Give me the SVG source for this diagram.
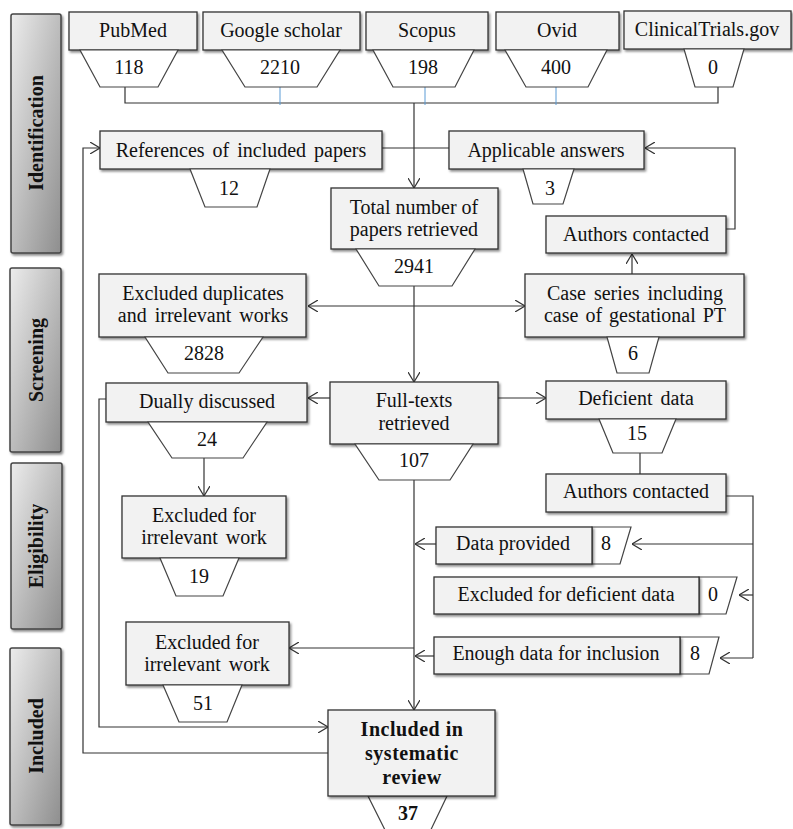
<svg xmlns="http://www.w3.org/2000/svg" width="793" height="829" viewBox="0 0 793 829">
<defs>
<linearGradient id="bar" x1="0" y1="0" x2="1" y2="1">
<stop offset="0" stop-color="#ececec"/>
<stop offset="1" stop-color="#8e8e8e"/>
</linearGradient>
<filter id="sh" x="-10%" y="-10%" width="130%" height="140%">
<feDropShadow dx="1.5" dy="2" stdDeviation="1" flood-color="#000" flood-opacity="0.45"/>
</filter>
<marker id="arr" viewBox="0 0 10 12" refX="10" refY="6" markerWidth="10" markerHeight="12" markerUnits="userSpaceOnUse" orient="auto-start-reverse">
<path d="M0,0 L10,6 L0,12" fill="none" stroke="#333" stroke-width="1.2"/>
</marker>
</defs>
<style>
.box{fill:#f2f2f2;stroke:#333;stroke-width:1.3;filter:url(#sh)}
.trap{fill:#fff;stroke:#444;stroke-width:1.2}
.phase{fill:url(#bar);stroke:#444;stroke-width:1.5;filter:url(#sh)}
text{font-family:"Liberation Serif","Times New Roman",serif;font-size:20px;fill:#111;text-anchor:middle}
.b{font-weight:bold}
.c{fill:none;stroke:#333;stroke-width:1.2}
.a{marker-end:url(#arr)}
.blue{fill:none;stroke:#5b9bd5;stroke-width:1}
</style>
<rect width="793" height="829" fill="#fff"/>

<g id="phase-identification"><rect class="phase" x="11" y="14" width="50" height="239" rx="2"/><text class="b" transform="translate(43,133) rotate(-90)">Identification</text></g>
<g id="phase-screening"><rect class="phase" x="10" y="268" width="51" height="184" rx="2"/><text class="b" transform="translate(43,360) rotate(-90)">Screening</text></g>
<g id="phase-eligibility"><rect class="phase" x="11" y="463" width="51" height="166" rx="2"/><text class="b" transform="translate(43,546) rotate(-90)">Eligibility</text></g>
<g id="phase-included"><rect class="phase" x="10" y="648" width="51" height="177" rx="2"/><text class="b" transform="translate(43,736) rotate(-90)">Included</text></g>

<g id="connectors">
<polyline class="c" points="125,87 125,103 718,103 718,87"/>
<line class="blue" x1="280" y1="87" x2="280" y2="105"/>
<line class="blue" x1="425" y1="87" x2="425" y2="105"/>
<line class="blue" x1="556" y1="87" x2="556" y2="105"/>
<line class="c a" x1="414" y1="103" x2="414" y2="188"/>
<line class="c" x1="382" y1="148" x2="449" y2="148"/>
<polyline class="c a" points="726,229 735,229 735,148 645,148"/>
<line class="c a" x1="632" y1="274" x2="632" y2="254"/>
<line class="c a" x1="414" y1="286" x2="414" y2="382"/>
<line class="c a" x1="308" y1="306" x2="525" y2="306" marker-start="url(#arr)"/>
<line class="c a" x1="330" y1="398" x2="308" y2="398"/>
<line class="c a" x1="498" y1="398" x2="546" y2="398"/>
<line class="c a" x1="204" y1="458" x2="204" y2="496"/>
<line class="c" x1="640" y1="453" x2="640" y2="474"/>
<polyline class="c" points="726,496 753,496 753,658"/>
<line class="c a" x1="753" y1="544" x2="632" y2="544"/>
<line class="c a" x1="753" y1="595" x2="739" y2="595"/>
<line class="c a" x1="753" y1="658" x2="720" y2="658"/>
<line class="c a" x1="436" y1="544" x2="415" y2="544"/>
<line class="c a" x1="434" y1="656" x2="415" y2="656"/>
<line class="c a" x1="414" y1="480" x2="414" y2="710"/>
<line class="c a" x1="414" y1="648" x2="289" y2="648"/>
<polyline class="c a" points="106,399 99,399 99,727 328,727"/>
<polyline class="c a" points="328,753 83,753 83,148 100,148"/>
</g>

<g id="pubmed"><rect class="box" x="69" y="12" width="128" height="38"/><polygon class="trap" points="80,50 178,50 158,87 100,87"/><text x="133" y="37">PubMed</text><text x="129" y="74">118</text></g>
<g id="google-scholar"><rect class="box" x="203" y="12" width="157" height="38"/><polygon class="trap" points="222,50 340,50 317,87 245,87"/><text x="281" y="37">Google scholar</text><text x="280" y="74">2210</text></g>
<g id="scopus"><rect class="box" x="366" y="12" width="122" height="38"/><polygon class="trap" points="373,50 474,50 455,87 393,87"/><text x="427" y="37">Scopus</text><text x="423" y="74">198</text></g>
<g id="ovid"><rect class="box" x="496" y="12" width="123" height="38"/><polygon class="trap" points="505,50 607,50 588,87 526,87"/><text x="557" y="37">Ovid</text><text x="556" y="74">400</text></g>
<g id="clinicaltrials"><rect class="box" x="624" y="11" width="167" height="38"/><polygon class="trap" points="684,49 744,49 733,87 695,87"/><text x="707" y="36">ClinicalTrials.gov</text><text x="713" y="74">0</text></g>

<g id="references"><rect class="box" x="100" y="131" width="282" height="38"/><polygon class="trap" points="190,169 270,169 257,207 205,207"/><text x="241" y="157" word-spacing="3">References of included papers</text><text x="229" y="195">12</text></g>
<g id="applicable"><rect class="box" x="449" y="131" width="195" height="38"/><polygon class="trap" points="523,169 574,169 563,204 533,204"/><text x="546" y="157">Applicable answers</text><text x="550" y="195">3</text></g>
<g id="authors1"><rect class="box" x="546" y="216" width="180" height="37"/><text x="636" y="241">Authors contacted</text></g>
<g id="total"><rect class="box" x="331" y="188" width="167" height="61"/><polygon class="trap" points="356,249 475,249 452,286 379,286"/><text x="414" y="214">Total number of</text><text x="414" y="236">papers retrieved</text><text x="414" y="273">2941</text></g>
<g id="excluded-duplicates"><rect class="box" x="99" y="274" width="207" height="63"/><polygon class="trap" points="145,337 263,337 239,373 168,373"/><text x="203" y="300">Excluded duplicates</text><text x="203" y="322" word-spacing="3">and irrelevant works</text><text x="204" y="360">2828</text></g>
<g id="case-series"><rect class="box" x="525" y="274" width="219" height="63"/><polygon class="trap" points="607,337 659,337 649,373 617,373"/><text x="635" y="300" word-spacing="3">Case series including</text><text x="635" y="322" word-spacing="2">case of gestational PT</text><text x="633" y="360">6</text></g>
<g id="full-texts"><rect class="box" x="330" y="382" width="168" height="62"/><polygon class="trap" points="355,444 473,444 450,480 379,480"/><text x="414" y="407">Full-texts</text><text x="414" y="430">retrieved</text><text x="414" y="467">107</text></g>
<g id="dually"><rect class="box" x="106" y="383" width="201" height="39"/><polygon class="trap" points="148,422 267,422 243,458 172,458"/><text x="207" y="408">Dually discussed</text><text x="207" y="446">24</text></g>
<g id="deficient"><rect class="box" x="546" y="381" width="180" height="38"/><polygon class="trap" points="599,419 676,419 662,453 613,453"/><text x="636" y="405" word-spacing="3">Deficient data</text><text x="637" y="440">15</text></g>
<g id="authors2"><rect class="box" x="546" y="474" width="180" height="38"/><text x="636" y="498">Authors contacted</text></g>
<g id="excluded-irrelevant1"><rect class="box" x="122" y="496" width="164" height="62"/><polygon class="trap" points="160,558 239,558 223,596 176,596"/><text x="204" y="522">Excluded for</text><text x="204" y="544" word-spacing="3">irrelevant work</text><text x="199" y="583">19</text></g>
<g id="data-provided"><polygon class="trap" points="592,527 631,527 620,564 592,564"/><rect class="box" x="436" y="527" width="156" height="37"/><text x="513" y="550">Data provided</text><text x="606" y="550">8</text></g>
<g id="excluded-deficient"><polygon class="trap" points="699,577 737,577 726,614 699,614"/><rect class="box" x="434" y="577" width="265" height="37"/><text x="566" y="601">Excluded for deficient data</text><text x="713" y="601">0</text></g>
<g id="enough-data"><polygon class="trap" points="680,637 719,637 709,674 680,674"/><rect class="box" x="434" y="637" width="246" height="37"/><text x="556" y="660">Enough data for inclusion</text><text x="695" y="660">8</text></g>
<g id="excluded-irrelevant2"><rect class="box" x="126" y="622" width="163" height="63"/><polygon class="trap" points="163,685 242,685 227,722 179,722"/><text x="207" y="649">Excluded for</text><text x="207" y="671" word-spacing="3">irrelevant work</text><text x="203" y="710">51</text></g>
<g id="included"><polygon class="trap" points="368,796 447,796 426,840 390,840"/><rect class="box" x="328" y="710" width="167" height="86"/><text class="b" x="412" y="736" letter-spacing="0.5">Included in</text><text class="b" x="412" y="760" letter-spacing="0.5">systematic</text><text class="b" x="412" y="784" letter-spacing="0.5">review</text><text class="b" x="408" y="820">37</text></g>
</svg>
